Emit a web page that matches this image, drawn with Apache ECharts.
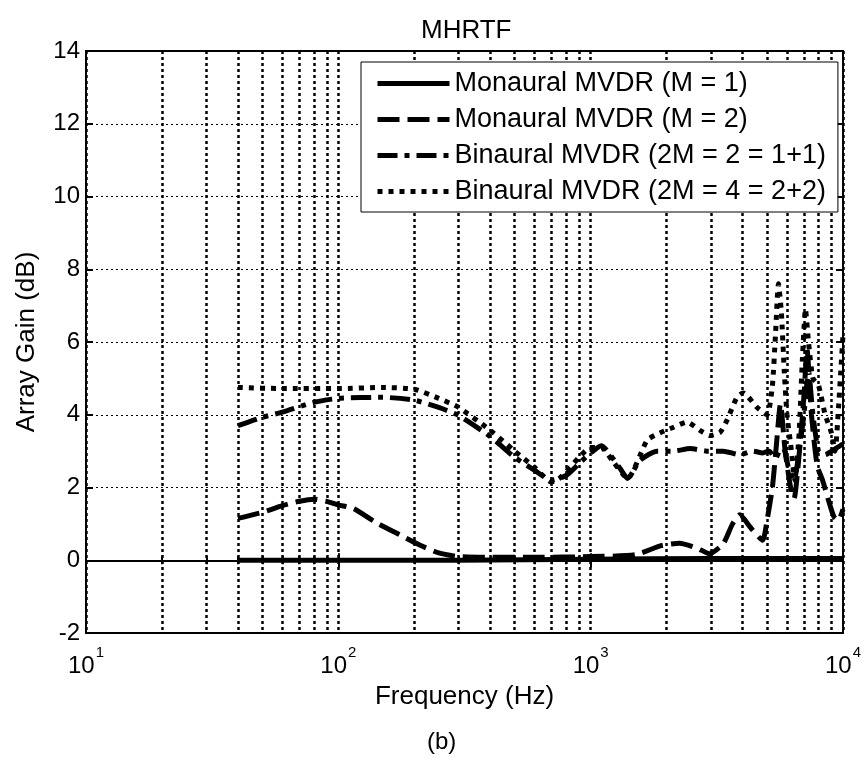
<!DOCTYPE html>
<html>
<head>
<meta charset="utf-8">
<title>MHRTF</title>
<script src="https://cdn.jsdelivr.net/npm/echarts@6/dist/echarts.min.js"></script>
<style>
    html, body { margin: 0; padding: 0; background: #fff; }
    #chart { width: 865px; height: 763px; }
</style>
</head>
<body>
<div id="chart"></div>
<script>
// 曲线数据
const seriesNames = [
    'Monaural MVDR (M = 1)',
    'Monaural MVDR (M = 2)',
    'Binaural MVDR (2M = 2 = 1+1)',
    'Binaural MVDR (2M = 4 = 2+2)'
];

const m1Freq = [40, 300, 1000, 3000, 10000];
const m1Gain = [0, 0, 0.03, 0.05, 0.05];

const m2Freq = [40, 50, 60, 70, 80, 90, 100, 115, 140, 175,
    210, 250, 300, 400, 600, 1000, 1500, 1900, 2250, 2650,
    2950, 3350, 3650, 3900, 4300, 4800, 5000, 5250, 5450, 5650,
    5900, 6200, 6400, 6700, 7000, 7200, 7500, 7900, 8300, 8800,
    9200, 9600, 10000];
const m2Gain = [1.15, 1.32, 1.5, 1.62, 1.68, 1.62, 1.52, 1.42, 1.05, 0.7,
    0.42, 0.2, 0.1, 0.08, 0.08, 0.1, 0.15, 0.4, 0.47, 0.33,
    0.18, 0.45, 1.0, 1.25, 0.9, 0.55, 1.1, 2.0, 3.2, 4.3,
    3.0, 2.0, 1.7, 2.9, 4.5, 5.8, 4.0, 2.6, 2.2, 1.6,
    1.2, 1.1, 1.4];

const b2Freq = [40, 50, 60, 80, 100, 150, 200, 250, 300, 400,
    500, 600, 700, 800, 900, 1000, 1100, 1300, 1400, 1570,
    1830, 2120, 2480, 2890, 3350, 3900, 4400, 4800, 5100, 5400,
    5600, 5800, 6100, 6400, 6700, 7000, 7300, 7600, 8000, 8500,
    9000, 9500, 10000];
const b2Gain = [3.7, 3.93, 4.07, 4.34, 4.45, 4.48, 4.4, 4.2, 3.98, 3.4,
    2.83, 2.47, 2.2, 2.33, 2.66, 2.95, 3.15, 2.55, 2.25, 2.75,
    3.0, 3.0, 3.07, 3.0, 3.0, 2.9, 3.0, 2.95, 3.0, 2.8,
    3.0, 3.1, 2.5, 2.2, 3.0, 4.0, 5.2, 4.0, 3.0, 2.9,
    3.0, 3.1, 3.2];

const b4Freq = [40, 60, 100, 150, 200, 250, 300, 400, 500, 600,
    700, 760, 900, 1000, 1100, 1230, 1400, 1675, 1880, 2120,
    2410, 2710, 2970, 3260, 3470, 3800, 4020, 4570, 5000, 5250,
    5400, 5550, 5700, 5850, 6000, 6200, 6450, 6700, 6900, 7100,
    7300, 7600, 8000, 8500, 9000, 9300, 9600, 9800, 10000];
const b4Gain = [4.75, 4.72, 4.72, 4.75, 4.7, 4.45, 4.2, 3.57, 3.0, 2.55,
    2.15, 2.28, 2.83, 3.1, 3.1, 2.7, 2.25, 3.3, 3.5, 3.65,
    3.8, 3.57, 3.43, 3.52, 3.85, 4.48, 4.6, 4.2, 4.0, 4.8,
    6.2, 7.6, 6.8, 5.2, 4.0, 3.2, 2.2, 3.5, 5.5, 6.9,
    6.0, 5.0, 4.8, 4.0, 3.5, 3.0, 4.2, 5.2, 6.2];

const FONT = '"Liberation Sans", Arial, sans-serif';
const LINE_WIDTH = 5;

const pairs = (xs, ys) => xs.map((x, i) => [x, ys[i]]);

// 统一的线条样式
function makeSeries(name, xs, ys, dash) {
    return {
        name: name,
        type: 'line',
        data: pairs(xs, ys),
        symbol: 'none',
        smooth: 0.2,
        xAxisIndex: 0,
        yAxisIndex: 0,
        lineStyle: {color: '#000', width: LINE_WIDTH, type: dash, cap: 'butt'},
        itemStyle: {color: '#000'}
    };
}

const tickStyle = {color: '#000', width: 2};

const chart = echarts.init(document.getElementById('chart'));

chart.setOption({
    animation: false,
    backgroundColor: '#fff',
    textStyle: {fontFamily: FONT, color: '#000'},
    title: {
        text: 'MHRTF',
        left: 416,
        top: 13,
        textStyle: {fontFamily: FONT, fontSize: 26, fontWeight: 'normal', color: '#000'}
    },
    grid: {
        left: 86,
        right: 22,
        top: 51,
        bottom: 130,
        show: true,
        borderColor: '#000',
        borderWidth: 2
    },
    legend: {
        orient: 'vertical',
        left: 361,
        top: 62,
        backgroundColor: '#fff',
        borderColor: '#000',
        borderWidth: 1,
        borderRadius: 0,
        padding: [8, 12, 7, 14],
        itemWidth: 72,
        itemHeight: 14,
        itemGap: 9,
        // 图例只画线，不画符号
        itemStyle: {opacity: 0},
        lineStyle: {width: LINE_WIDTH},
        textStyle: {fontFamily: FONT, fontSize: 27, color: '#000'},
        data: seriesNames
    },
    xAxis: [{
        type: 'log',
        logBase: 10,
        min: 10,
        max: 10000,
        name: 'Frequency (Hz)',
        nameLocation: 'middle',
        nameGap: 51,
        nameMoveOverlap: false,
        nameTextStyle: {fontFamily: FONT, fontSize: 26, color: '#000'},
        axisLine: {show: true, lineStyle: tickStyle},
        axisTick: {show: true, inside: true, length: 7, lineStyle: tickStyle},
        minorTick: {show: true, splitNumber: 9, length: 4, lineStyle: tickStyle},
        axisLabel: {
            margin: 21,
            formatter: v => '{b|10}{s|' + Math.round(Math.log10(v)) + '}',
            rich: {
                b: {fontFamily: FONT, fontSize: 24, color: '#000', lineHeight: 24},
                s: {fontFamily: FONT, fontSize: 15, color: '#000', lineHeight: 15,
                    padding: [0, 0, 27, 1]}
            }
        },
        splitLine: {show: true, lineStyle: {color: '#000', width: 2.5, type: [3, 3]}},
        minorSplitLine: {show: true, lineStyle: {color: '#000', width: 2.5, type: [3, 3]}}
    }, {
        type: 'log',
        logBase: 10,
        min: 10,
        max: 10000,
        position: 'top',
        axisLine: {show: true, lineStyle: tickStyle},
        axisTick: {show: true, inside: true, length: 7, lineStyle: tickStyle},
        minorTick: {show: true, splitNumber: 9, length: 4, lineStyle: tickStyle},
        axisLabel: {show: false},
        splitLine: {show: false}
    }],
    yAxis: [{
        type: 'value',
        min: -2,
        max: 14,
        interval: 2,
        name: 'Array Gain (dB)',
        nameLocation: 'middle',
        nameGap: 46,
        nameTextStyle: {fontFamily: FONT, fontSize: 26, color: '#000'},
        axisLine: {show: true, lineStyle: tickStyle},
        axisTick: {show: true, inside: true, length: 7, lineStyle: tickStyle},
        axisLabel: {fontFamily: FONT, fontSize: 24, color: '#000', margin: 6},
        splitLine: {show: true, lineStyle: {color: '#000', width: 1, type: [2, 3]}}
    }, {
        type: 'value',
        min: -2,
        max: 14,
        interval: 2,
        position: 'right',
        axisLine: {show: true, lineStyle: tickStyle},
        axisTick: {show: true, inside: true, length: 7, lineStyle: tickStyle},
        axisLabel: {show: false},
        splitLine: {show: false}
    }],
    graphic: [{
        type: 'text',
        left: 427,
        top: 730,
        style: {text: '(b)', fontFamily: FONT, fontSize: 24, fill: '#000'}
    }],
    series: [
        makeSeries(seriesNames[0], m1Freq, m1Gain, 'solid'),
        makeSeries(seriesNames[1], m2Freq, m2Gain, [22, 8]),
        makeSeries(seriesNames[2], b2Freq, b2Gain, [20, 7, 5, 7]),
        makeSeries(seriesNames[3], b4Freq, b4Gain, [5, 6])
    ]
});
</script>
</body>
</html>
